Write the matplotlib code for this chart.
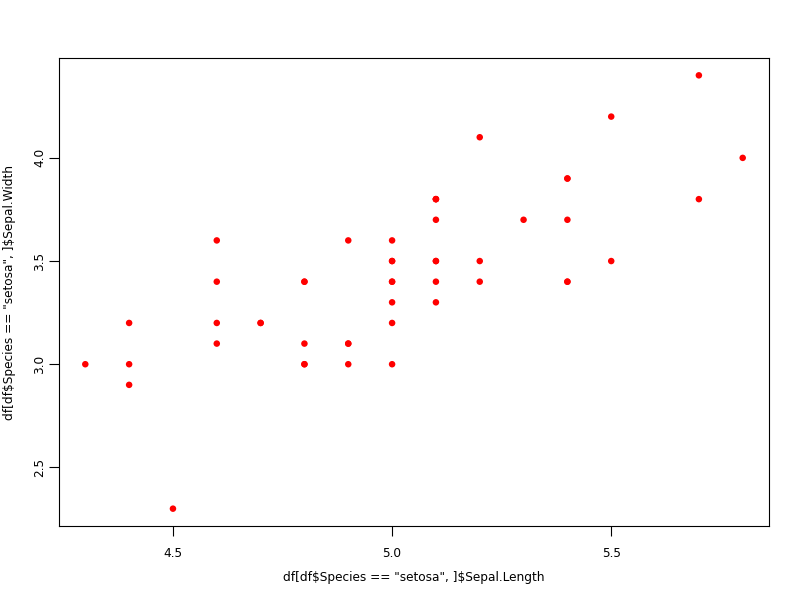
import matplotlib
matplotlib.use("Agg")
import matplotlib.pyplot as plt

# iris, especie setosa
sepal_length = [5.1, 4.9, 4.7, 4.6, 5.0, 5.4, 4.6, 5.0, 4.4, 4.9,
                5.4, 4.8, 4.8, 4.3, 5.8, 5.7, 5.4, 5.1, 5.7, 5.1,
                5.4, 5.1, 4.6, 5.1, 4.8, 5.0, 5.0, 5.2, 5.2, 4.7,
                4.8, 5.4, 5.2, 5.5, 4.9, 5.0, 5.5, 4.9, 4.4, 5.1,
                5.0, 4.5, 4.4, 5.0, 5.1, 4.8, 5.1, 4.6, 5.3, 5.0]
sepal_width = [3.5, 3.0, 3.2, 3.1, 3.6, 3.9, 3.4, 3.4, 2.9, 3.1,
               3.7, 3.4, 3.0, 3.0, 4.0, 4.4, 3.9, 3.5, 3.8, 3.8,
               3.4, 3.7, 3.6, 3.3, 3.4, 3.0, 3.4, 3.5, 3.4, 3.2,
               3.1, 3.4, 4.1, 4.2, 3.1, 3.2, 3.5, 3.6, 3.0, 3.4,
               3.5, 2.3, 3.2, 3.5, 3.8, 3.0, 3.8, 3.2, 3.7, 3.3]
x_ticks = [4.5, 5.0, 5.5]
y_ticks = [2.5, 3.0, 3.5, 4.0]

fig = plt.figure(figsize=(8, 6), dpi=100)
ax = fig.add_axes([59 / 800, 74 / 600, 710 / 800, 468 / 600])

ax.scatter(sepal_length, sepal_width, s=22, c="red", edgecolors="none")

# límites estilo R (4% extra)
xmin, xmax = min(sepal_length), max(sepal_length)
ymin, ymax = min(sepal_width), max(sepal_width)
dx = (xmax - xmin) * 0.04
dy = (ymax - ymin) * 0.04
ax.set_xlim(xmin - dx, xmax + dx)
ax.set_ylim(ymin - dy, ymax + dy)

ax.set_xticks(x_ticks)
ax.set_yticks(y_ticks)
ax.set_xticklabels([f"{v:.1f}" for v in x_ticks])
ax.set_yticklabels([f"{v:.1f}" for v in y_ticks], rotation=90, va="center")
ax.tick_params(direction="out", length=7, width=0.8, labelsize=8.7)
ax.tick_params(axis="x", pad=8)
ax.tick_params(axis="y", pad=2)

for sp in ax.spines.values():
    sp.set_linewidth(0.8)

fig.text(414 / 800, 1 - 577 / 600, 'df[df$Species == "setosa", ]$Sepal.Length',
         fontsize=8.7, ha="center", va="center", parse_math=False)
fig.text(10 / 800, 1 - 292 / 600, 'df[df$Species == "setosa", ]$Sepal.Width',
         fontsize=8.7, ha="center", va="center", rotation=90, parse_math=False)

plt.savefig("out.png", dpi=100)
